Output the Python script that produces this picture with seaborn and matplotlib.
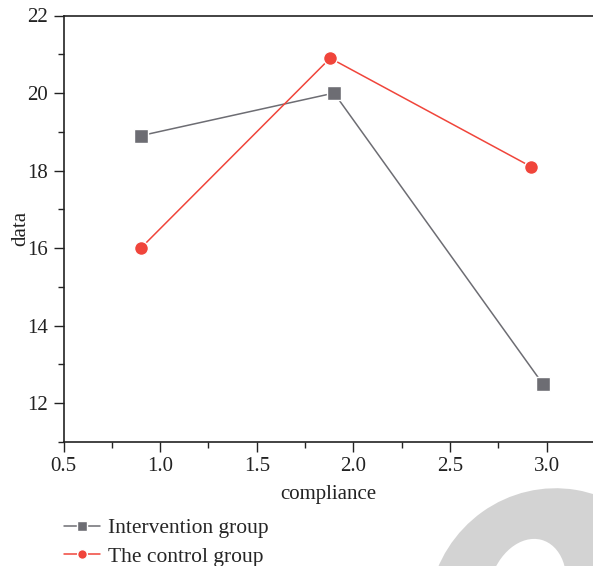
import matplotlib
matplotlib.use("Agg")
import matplotlib.pyplot as plt
from matplotlib.patches import Ellipse
from matplotlib.ticker import MultipleLocator, FormatStrFormatter
import seaborn as sns
import pandas as pd

# Data
groups = ["Intervention group", "The control group"]
x_intervention = [0.9, 1.9, 2.98]
y_intervention = [18.9, 20.0, 12.5]
x_control = [0.9, 1.88, 2.92]
y_control = [16.0, 20.9, 18.1]
x_label = "compliance"
y_label = "data"

df = pd.DataFrame({
    "compliance": x_intervention + x_control,
    "data": y_intervention + y_control,
    "group": [groups[0]] * len(x_intervention) + [groups[1]] * len(x_control),
})

sns.set_style("white")
plt.rcParams["font.family"] = ["Liberation Serif", "DejaVu Serif"]

W, H, DPI = 593, 566, 100
fig = plt.figure(figsize=(W / DPI, H / DPI), dpi=DPI)
left, right = 63.5 / W, 1.0
top, bottom = 1 - 15.5 / H, 1 - 442 / H
ax = fig.add_axes([left, bottom, right - left, top - bottom])

palette = {groups[0]: "#6d6d73", groups[1]: "#f0453b"}
markers = {groups[0]: "s", groups[1]: "o"}
sns.lineplot(data=df, x="compliance", y="data", hue="group", style="group",
             palette=palette, markers=markers, dashes=False, sort=False,
             linewidth=1.1, markersize=10, markeredgecolor="white",
             markeredgewidth=1.0, ax=ax, legend=True)

ax.set_xlim(0.5, 3.24)
ax.set_ylim(11, 22)
ax.xaxis.set_major_locator(MultipleLocator(0.5))
ax.xaxis.set_minor_locator(MultipleLocator(0.25))
ax.yaxis.set_major_locator(MultipleLocator(2))
ax.yaxis.set_minor_locator(MultipleLocator(1))
ax.xaxis.set_major_formatter(FormatStrFormatter("%.1f"))

for s in ["left", "bottom", "top"]:
    ax.spines[s].set_visible(True)
    ax.spines[s].set_color("#222222")
    ax.spines[s].set_linewidth(1.2)
ax.spines["right"].set_visible(False)

ax.tick_params(axis="both", which="major", direction="out", length=7, width=1.0,
               color="#222222", labelsize=15, labelcolor="#222222", pad=4,
               bottom=True, left=True, top=False, right=False)
ax.tick_params(axis="both", which="minor", direction="out", length=4, width=1.0,
               color="#222222", bottom=True, left=True, top=False, right=False)

ax.set_xlabel(x_label, fontsize=15, color="#222222", labelpad=6)
ax.set_ylabel(y_label, fontsize=15, color="#222222", labelpad=-2)

handles, labels = ax.get_legend_handles_labels()
ax.get_legend().remove()
for h in handles:
    h.set_markersize(7)
fig.legend(handles, labels, loc="upper left",
           bbox_to_anchor=(49 / W, 1 - 503 / H), bbox_transform=fig.transFigure,
           frameon=False, fontsize=15.5, handlelength=1.65, handletextpad=0.4,
           labelspacing=0.4, borderpad=0.2)

# Watermark shape (decorative)
outer = Ellipse((553 / W, 1 - 615 / H), 250 / W, 254 / H, angle=-10,
                transform=fig.transFigure, facecolor="#d3d3d3", edgecolor="none", zorder=0)
inner = Ellipse((527 / W, 1 - 590 / H), 76 / W, 104 / H, angle=-15,
                transform=fig.transFigure, facecolor="white", edgecolor="none", zorder=0.5)
fig.patches.extend([outer, inner])

fig.savefig("out.png", dpi=DPI)
